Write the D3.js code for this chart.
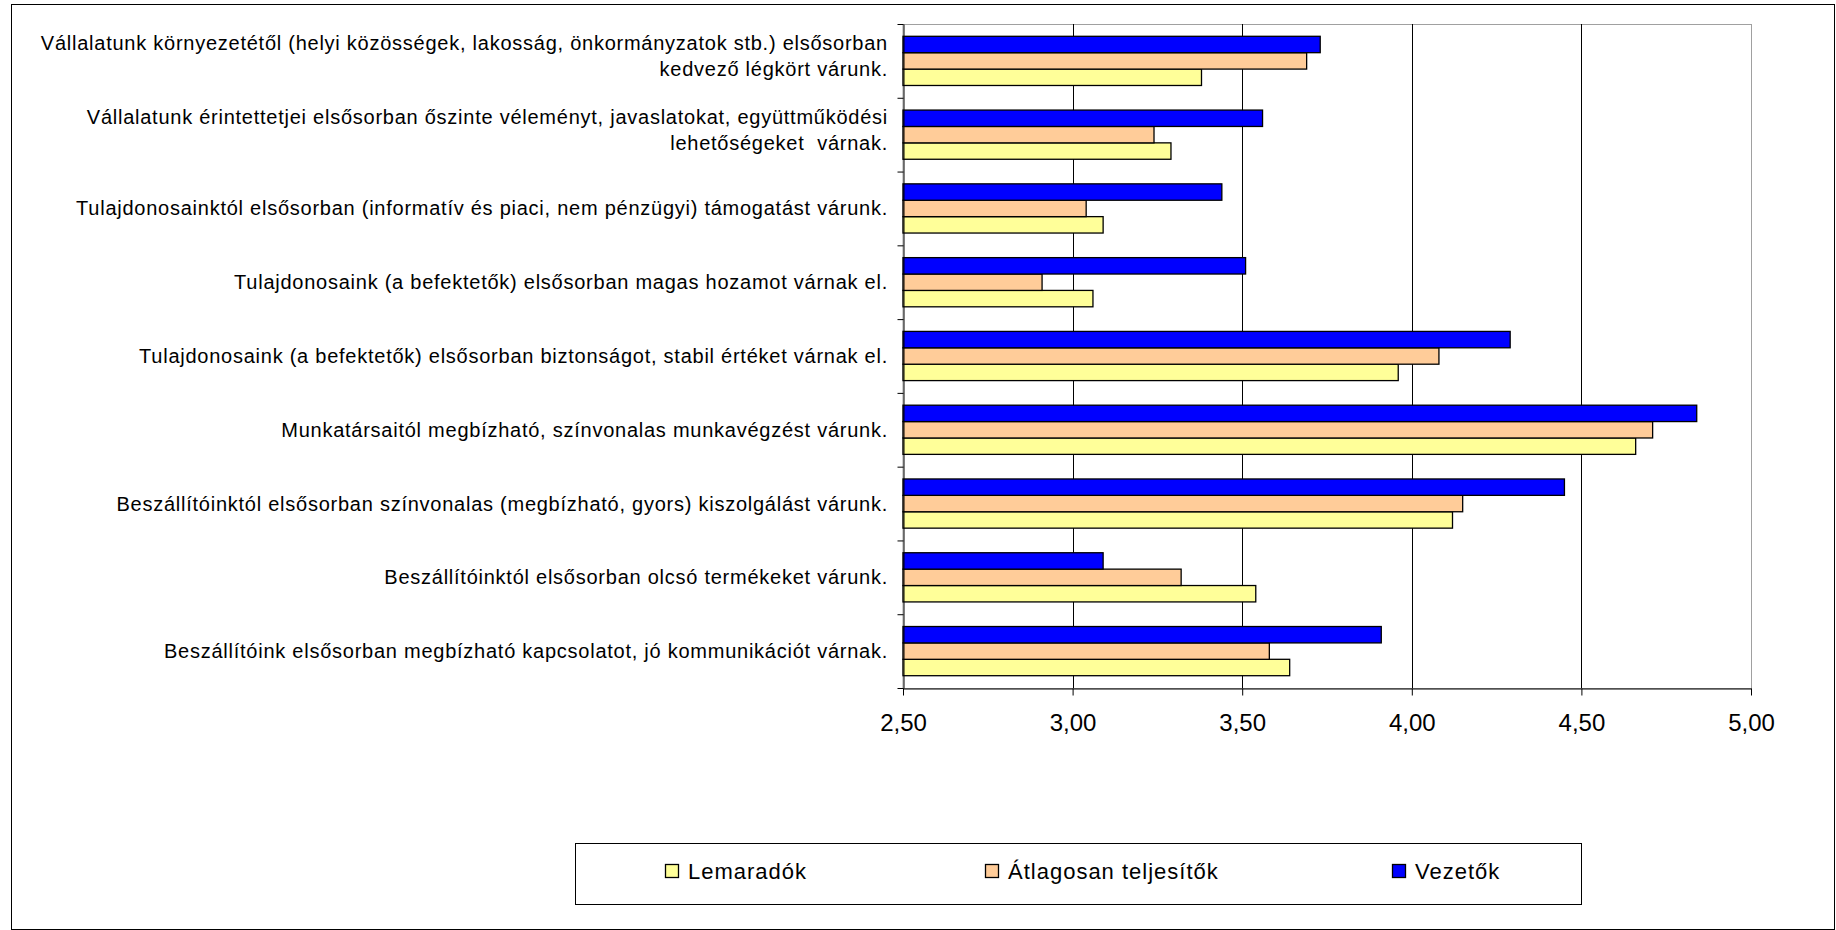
<!DOCTYPE html>
<html><head><meta charset="utf-8">
<script src="https://cdn.jsdelivr.net/npm/d3@7"></script>
<style>
html,body{margin:0;padding:0;background:#fff;}
svg{display:block;font-family:"Liberation Sans",Arial,sans-serif;}
</style></head>
<body>
<svg id="chart" width="1836" height="930"></svg>
<script>
// ---- data (top-to-bottom category order) ----
const categories = [
  ["Vállalatunk környezetétől (helyi közösségek, lakosság, önkormányzatok stb.) elsősorban", "kedvező légkört várunk."],
  ["Vállalatunk érintettetjei elsősorban őszinte véleményt, javaslatokat, együttműködési", "lehetőségeket  várnak."],
  ["Tulajdonosainktól elsősorban (informatív és piaci, nem pénzügyi) támogatást várunk."],
  ["Tulajdonosaink (a befektetők) elsősorban magas hozamot várnak el."],
  ["Tulajdonosaink (a befektetők) elsősorban biztonságot, stabil értéket várnak el."],
  ["Munkatársaitól megbízható, színvonalas munkavégzést várunk."],
  ["Beszállítóinktól elsősorban színvonalas (megbízható, gyors) kiszolgálást várunk."],
  ["Beszállítóinktól elsősorban olcsó termékeket várunk."],
  ["Beszállítóink elsősorban megbízható kapcsolatot, jó kommunikációt várnak."]
];
const seriesNames = ["Lemaradók", "Átlagosan teljesítők", "Vezetők"];
const lemaradok  = [3.38, 3.29, 3.09, 3.06, 3.96, 4.66, 4.12, 3.54, 3.64];
const atlagosan  = [3.69, 3.24, 3.04, 2.91, 4.08, 4.71, 4.15, 3.32, 3.58];
const vezetok    = [3.73, 3.56, 3.44, 3.51, 4.29, 4.84, 4.45, 3.09, 3.91];
const xTicks = [2.5, 3.0, 3.5, 4.0, 4.5, 5.0];
const xDomain = [2.5, 5.0];

const seriesValues = [lemaradok, atlagosan, vezetok];
const seriesColors = ["#FFFF99", "#FFCC99", "#0000FF"];

// ---- layout ----
const svg = d3.select("#chart");
const L = 903, R = 1751, T = 24, B = 688;

svg.append("rect").attr("x", 11.5).attr("y", 4.5).attr("width", 1823).attr("height", 925)
  .attr("fill", "#fff").attr("stroke", "#000").attr("stroke-width", 1);

const x = d3.scaleLinear().domain(xDomain).range([L, R]);
const idx = d3.range(categories.length);
const y = d3.scaleBand().domain(idx).range([T, B]).paddingInner(1/3).paddingOuter(1/6);
const drawOrder = [2, 1, 0]; // Vezetők top, then Átlagosan, Lemaradók bottom
const yInner = d3.scaleBand().domain(drawOrder).range([0, y.bandwidth()]);
const yEdge = d3.scaleLinear().domain([0, categories.length]).range([T, B]);

// plot area border (gray)
svg.append("rect").attr("x", L).attr("y", T + 0.5).attr("width", R - L + 0.5).attr("height", B - T)
  .attr("fill", "none").attr("stroke", "#a0a0a0").attr("stroke-width", 1);

// gridlines
svg.append("g").selectAll("line").data(xTicks.slice(1, -1)).join("line")
  .attr("x1", d => Math.round(x(d)) + 0.5).attr("x2", d => Math.round(x(d)) + 0.5)
  .attr("y1", T).attr("y2", B).attr("stroke", "#000").attr("stroke-width", 1);

// bars
const bars = [];
seriesValues.forEach((vals, s) => vals.forEach((v, i) => bars.push({s, i, v})));
svg.append("g").selectAll("rect").data(bars).join("rect")
  .attr("x", x(xDomain[0]))
  .attr("y", d => y(d.i) + yInner(d.s))
  .attr("width", d => x(d.v) - x(xDomain[0]))
  .attr("height", yInner.bandwidth())
  .attr("fill", d => seriesColors[d.s])
  .attr("stroke", "#000").attr("stroke-width", 1.3);

// x axis
const locale = d3.formatLocale({decimal: ",", thousands: " ", grouping: [3], currency: ["", ""]});
const fmt = locale.format(".2f");
const xAxis = svg.append("g").attr("transform", `translate(0,${B + 0.5})`)
  .call(d3.axisBottom(x).tickValues(xTicks).tickSize(7).tickSizeOuter(0).tickFormat(fmt));
xAxis.select(".domain").attr("stroke", "#000");
xAxis.selectAll(".tick line").attr("stroke", "#000");
xAxis.selectAll("text").attr("y", 34).attr("dy", "0.35em")
  .attr("font-size", 24).attr("fill", "#000")
  .attr("font-family", "Liberation Sans, Arial, sans-serif");

// y axis (ticks at category boundaries)
const yAxis = svg.append("g").attr("transform", `translate(${L + 0.5},0)`)
  .call(d3.axisLeft(yEdge).tickValues(d3.range(categories.length + 1)).tickSize(6).tickSizeOuter(0).tickFormat(""));
yAxis.select(".domain").attr("stroke", "#000");
yAxis.selectAll(".tick line").attr("stroke", "#000");

// category labels
const lab = svg.append("g").attr("font-size", 20).attr("letter-spacing", "0.75px")
  .attr("fill", "#000").attr("text-anchor", "end");
categories.forEach((lines, i) => {
  const c = y(i) + y.bandwidth() / 2;
  const t = lab.append("text").attr("x", 888).style("white-space", "pre");
  if (lines.length === 1) {
    t.append("tspan").attr("x", 888).attr("y", c).attr("dy", "0.35em").text(lines[0]);
  } else {
    t.append("tspan").attr("x", 888).attr("y", c - 18).attr("dy", "0.35em").text(lines[0]);
    t.append("tspan").attr("x", 888).attr("y", c + 8).attr("dy", "0.35em").text(lines[1]);
  }
});

// legend
svg.append("rect").attr("x", 575.5).attr("y", 843.5).attr("width", 1006).attr("height", 61)
  .attr("fill", "#fff").attr("stroke", "#000").attr("stroke-width", 1);
const legX = [665, 985, 1392];
const lg = svg.append("g").selectAll("g").data(seriesNames).join("g")
  .attr("transform", (d, i) => `translate(${legX[i]},871)`);
lg.append("rect").attr("x", 0.5).attr("y", -6.5).attr("width", 13).attr("height", 13)
  .attr("fill", (d, i) => seriesColors[i]).attr("stroke", "#000").attr("stroke-width", 1.3);
lg.append("text").attr("x", 23).attr("dy", "0.35em").attr("font-size", 22).attr("letter-spacing", "1px")
  .attr("fill", "#000").text(d => d);
</script>
</body></html>
